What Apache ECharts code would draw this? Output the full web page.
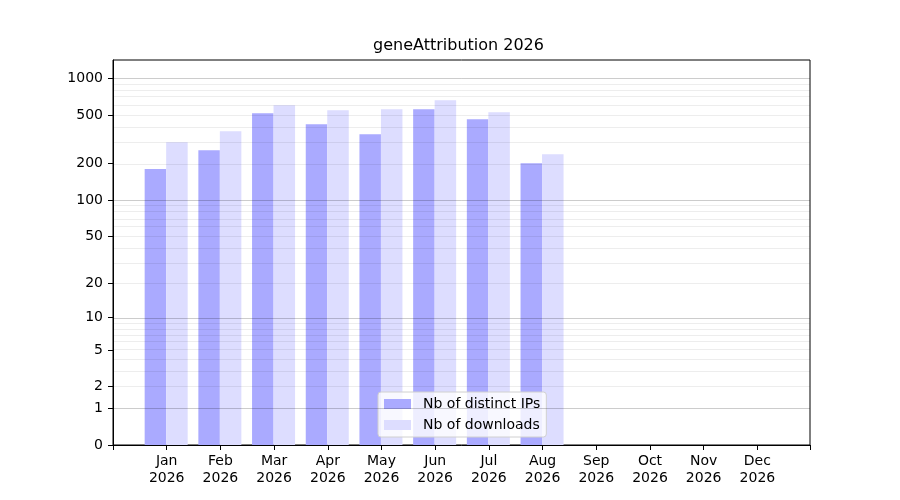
<!DOCTYPE html>
<html>
<head>
<meta charset="utf-8">
<script src="https://cdn.jsdelivr.net/npm/echarts@6/dist/echarts.min.js"></script>
<style>
  html, body { margin: 0; padding: 0; background: #fff; }
  #chart { width: 900px; height: 500px; }
</style>
</head>
<body>
<div id="chart"></div>
<script>
// data
const months = ['Jan', 'Feb', 'Mar', 'Apr', 'May', 'Jun', 'Jul', 'Aug', 'Sep', 'Oct', 'Nov', 'Dec']
const year = '2026'
const distinctIPs = [180, 257, 518, 421, 348, 558, 462, 201]
const downloads = [299, 368, 602, 548, 558, 661, 527, 238]
const yTicks = [0, 1, 2, 5, 10, 20, 50, 100, 200, 500, 1000]
const majorGrid = [1, 10, 100, 1000]
const minorGrid = [2, 3, 4, 5, 6, 7, 8, 9, 20, 30, 40, 50, 60, 70, 80, 90, 200, 300, 400, 500, 600, 700, 800, 900]

// y axis is log10(v + 1)
const tf = v => Math.log10(v + 1)
const inv = t => Math.round(Math.pow(10, t) - 1)

const chart = echarts.init(document.getElementById('chart'), null, { renderer: 'canvas' })

let gridLines = []
majorGrid.forEach(v => {
  gridLines.push({ yAxis: tf(v), lineStyle: { color: 'rgba(0,0,0,0.2)', width: 1, type: 'solid' } })
})
minorGrid.forEach(v => {
  gridLines.push({ yAxis: tf(v), lineStyle: { color: 'rgba(0,0,0,0.07)', width: 1, type: 'solid' } })
})

// x ticks are counted from min (-0.99), so they sit at k + 0.01
const monthLabel = v => {
  const i = Math.round(v)
  if (Math.abs(v - i) > 0.05 || !months[i]) return ''
  return months[i] + '\n' + year
}

const xRange = { type: 'value', min: -0.99, max: 11.99, interval: 1 }
const yRange = { type: 'value', min: 0, max: 3.15 }

const option = {
  animation: false,
  textStyle: { fontFamily: 'DejaVu Sans' },
  title: {
    text: 'geneAttribution ' + year,
    left: 373,
    top: 38,
    padding: 0,
    textStyle: { fontSize: 16, fontWeight: 'normal', color: '#000' }
  },
  legend: {
    data: ['Nb of distinct IPs', 'Nb of downloads'],
    orient: 'vertical',
    left: 378,
    top: 392,
    icon: 'rect',
    itemWidth: 27,
    itemHeight: 10,
    itemGap: 7,
    padding: [5, 6, 5, 6],
    backgroundColor: 'rgba(255,255,255,0.8)',
    borderColor: '#d0d0d0',
    borderWidth: 1,
    borderRadius: 3,
    textStyle: { fontSize: 14, color: '#000', padding: [0, 0, 0, 7] }
  },
  grid: {
    left: 113,
    right: 90,
    top: 60,
    bottom: 55,
    show: true,
    borderColor: '#000',
    borderWidth: 1
  },
  xAxis: [
    {
      // labels
      ...xRange,
      position: 'bottom',
      splitLine: { show: false },
      axisLine: { onZero: false, lineStyle: { color: '#000' } },
      axisTick: { show: false },
      axisLabel: {
        showMinLabel: false,
        showMaxLabel: false,
        formatter: monthLabel,
        fontSize: 14,
        lineHeight: 17,
        color: '#000',
        margin: 8
      }
    },
    {
      // tick marks only
      ...xRange,
      position: 'bottom',
      splitLine: { show: false },
      axisLine: { show: false, onZero: false },
      axisLabel: { show: false },
      axisTick: { show: true, length: 5, lineStyle: { color: '#000' } }
    }
  ],
  yAxis: [
    {
      ...yRange,
      position: 'left',
      splitLine: { show: false },
      axisLine: { show: true, onZero: false, lineStyle: { color: '#000' } },
      axisTick: { show: false },
      axisLabel: {
        customValues: yTicks.map(tf),
        formatter: v => String(inv(v)),
        fontSize: 14,
        color: '#000',
        margin: 10
      }
    },
    {
      ...yRange,
      position: 'left',
      splitLine: { show: false },
      axisLine: { show: false, onZero: false },
      axisLabel: { show: false },
      axisTick: { show: true, length: 5, customValues: yTicks.map(tf), lineStyle: { color: '#000' } }
    }
  ],
  series: [
    {
      name: 'Nb of distinct IPs',
      type: 'bar',
      barWidth: 21.5,
      barGap: '0%',
      itemStyle: { color: '#aaaaff' },
      data: distinctIPs.map((v, i) => [i, tf(v)])
    },
    {
      name: 'Nb of downloads',
      type: 'bar',
      barWidth: 21.5,
      barGap: '0%',
      itemStyle: { color: '#ddddff' },
      data: downloads.map((v, i) => [i, tf(v)])
    },
    {
      name: 'grid',
      type: 'line',
      z: 10,
      data: [],
      markLine: {
        silent: true,
        symbol: ['none', 'none'],
        label: { show: false },
        data: gridLines
      }
    }
  ]
}
chart.setOption(option)
</script>
</body>
</html>
